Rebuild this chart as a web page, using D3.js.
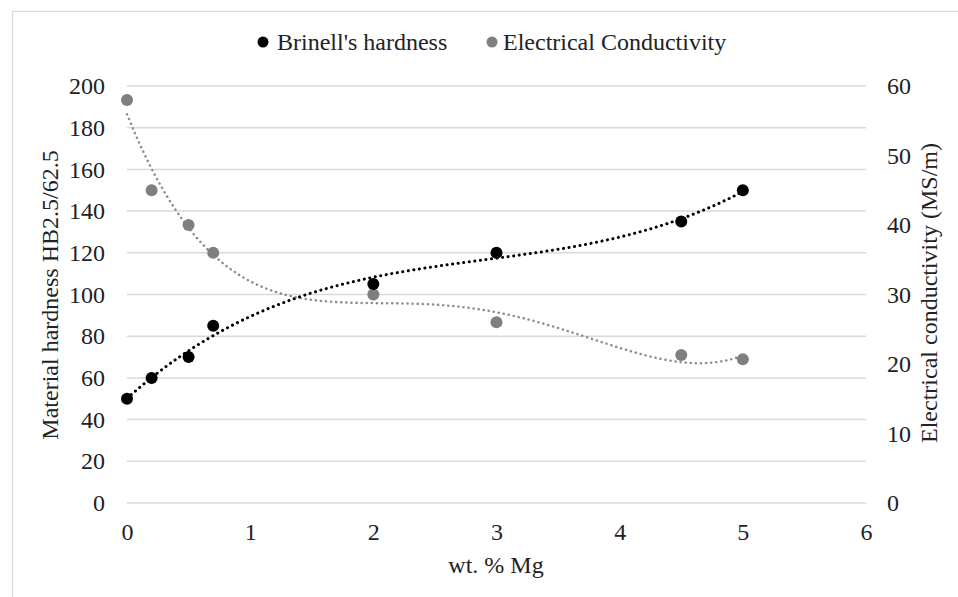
<!DOCTYPE html>
<html>
<head>
<meta charset="utf-8">
<script src="https://cdn.jsdelivr.net/npm/d3@7"></script>
<style>
  body { margin: 0; background: #fff; }
</style>
</head>
<body>
<div id="chart"></div>
<script>
// data
const mgPct = [0, 0.2, 0.5, 0.7, 2, 3, 4.5, 5];
const hardness = [50, 60, 70, 85, 105, 120, 135, 150];
const conductivity = [58, 45, 40, 36, 30, 26, 21.3, 20.7];
const xTicks = [0, 1, 2, 3, 4, 5, 6];
const leftTicks = [0, 20, 40, 60, 80, 100, 120, 140, 160, 180, 200];
const rightTicks = [0, 10, 20, 30, 40, 50, 60];
const seriesNames = ["Brinell's hardness", "Electrical Conductivity"];

const FONT = "\"Liberation Serif\"";
const FS = "24px";
const width = 958, height = 597;
const margin = { left: 127, right: 92, top: 86, bottom: 94 };

const svg = d3.select("#chart").append("svg")
    .attr("width", width)
    .attr("height", height);

// outer frame
svg.append("rect")
    .attr("x", 12.5).attr("y", 11.5)
    .attr("width", width).attr("height", height)
    .attr("fill", "none")
    .attr("stroke", "#d9d9d9")
    .attr("stroke-width", 1.2);

const x = d3.scaleLinear().domain([0, 6]).range([margin.left, width - margin.right]);
const yL = d3.scaleLinear().domain([0, 200]).range([height - margin.bottom, margin.top]);
const yR = d3.scaleLinear().domain([0, 60]).range([height - margin.bottom, margin.top]);

// grid lines
svg.append("g")
    .selectAll("line")
    .data(leftTicks)
    .enter()
    .append("line")
    .attr("x1", x(0)).attr("x2", x(6))
    .attr("y1", d => yL(d)).attr("y2", d => yL(d))
    .attr("stroke", "#d9d9d9")
    .attr("stroke-width", 1.5);

function styleAxis(g) {
    g.select(".domain").remove();
    g.attr("font-family", null).attr("font-size", null);
    g.selectAll("text")
        .style("font-family", FONT)
        .style("font-size", FS)
        .attr("fill", "#222");
}

// left axis
svg.append("g")
    .attr("transform", `translate(${x(0)},0)`)
    .call(d3.axisLeft(yL).tickValues(leftTicks).tickFormat(d3.format("d")).tickSize(0).tickPadding(22))
    .call(styleAxis);

// right axis
svg.append("g")
    .attr("transform", `translate(${x(6)},0)`)
    .call(d3.axisRight(yR).tickValues(rightTicks).tickFormat(d3.format("d")).tickSize(0).tickPadding(21))
    .call(styleAxis);

// bottom axis
svg.append("g")
    .attr("transform", `translate(0,${yL(0)})`)
    .call(d3.axisBottom(x).tickValues(xTicks).tickFormat(d3.format("d")).tickSize(0).tickPadding(20))
    .call(styleAxis);

// axis titles
function title(sel) {
    return sel.attr("text-anchor", "middle")
        .style("font-family", FONT)
        .style("font-size", FS)
        .attr("fill", "#222");
}

svg.append("text")
    .attr("x", 496).attr("y", 573)
    .call(title)
    .text("wt. % Mg");

svg.append("text")
    .attr("transform", "translate(58,295) rotate(-90)")
    .call(title)
    .text("Material hardness HB2.5/62.5");

svg.append("text")
    .attr("transform", "translate(937,293) rotate(-90)")
    .call(title)
    .text("Electrical conductivity (MS/m)");

// least squares polynomial fit (Excel-style trendline)
function polyFit(xs, ys, order) {
    const n = order + 1;
    const A = [];
    for (let i = 0; i < n; i++) {
        A.push([]);
        for (let j = 0; j <= n; j++) A[i].push(0);
    }
    xs.forEach((xv, k) => {
        for (let i = 0; i < n; i++) {
            for (let j = 0; j < n; j++) A[i][j] += Math.pow(xv, i + j);
            A[i][n] += ys[k] * Math.pow(xv, i);
        }
    });
    for (let i = 0; i < n; i++) {
        let p = i;
        for (let r = i + 1; r < n; r++) if (Math.abs(A[r][i]) > Math.abs(A[p][i])) p = r;
        [A[i], A[p]] = [A[p], A[i]];
        for (let r = 0; r < n; r++) {
            if (r === i) continue;
            const f = A[r][i] / A[i][i];
            for (let c = i; c <= n; c++) A[r][c] -= f * A[i][c];
        }
    }
    const coef = A.map((row, i) => row[n] / row[i]);
    return t => coef.reduce((s, c, i) => s + c * Math.pow(t, i), 0);
}

const fitH = polyFit(mgPct, hardness, 3);
const fitC = polyFit(mgPct, conductivity, 4);
const samples = d3.range(0, 5.0001, 0.05);

const line = d3.line().x(d => x(d[0])).y(d => d[1]);

svg.append("path")
    .attr("d", line(samples.map(t => [t, yR(fitC(t))])))
    .attr("fill", "none")
    .attr("stroke", "#8c8c8c")
    .attr("stroke-width", 2.5)
    .attr("stroke-linecap", "round")
    .attr("stroke-dasharray", "0.1,5");

svg.append("path")
    .attr("d", line(samples.map(t => [t, yL(fitH(t))])))
    .attr("fill", "none")
    .attr("stroke", "#000")
    .attr("stroke-width", 3)
    .attr("stroke-linecap", "round")
    .attr("stroke-dasharray", "0.1,5.5");

// points
svg.append("g")
    .selectAll("circle")
    .data(mgPct)
    .enter()
    .append("circle")
    .attr("cx", d => x(d))
    .attr("cy", (d, i) => yR(conductivity[i]))
    .attr("r", 6)
    .attr("fill", "#7f7f7f");

svg.append("g")
    .selectAll("circle")
    .data(mgPct)
    .enter()
    .append("circle")
    .attr("cx", d => x(d))
    .attr("cy", (d, i) => yL(hardness[i]))
    .attr("r", 6)
    .attr("fill", "#000");

// legend
const legend = svg.append("g");
const legendItems = [
    { name: seriesNames[0], color: "#000", cx: 263, tx: 277 },
    { name: seriesNames[1], color: "#7f7f7f", cx: 492, tx: 503 }
];
legendItems.forEach(d => {
    legend.append("circle")
        .attr("cx", d.cx).attr("cy", 42).attr("r", 5.5)
        .attr("fill", d.color);
    legend.append("text")
        .attr("x", d.tx).attr("y", 50)
        .style("font-family", FONT)
        .style("font-size", FS)
        .attr("fill", "#222")
        .text(d.name);
});
</script>
</body>
</html>
